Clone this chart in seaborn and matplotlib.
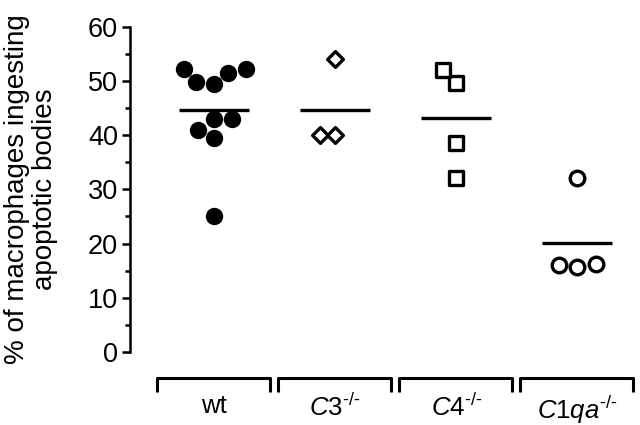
import numpy as np
import pandas as pd
import seaborn as sns
import matplotlib.pyplot as plt

# values (% of macrophages ingesting apoptotic bodies)
groups = ['wt', 'C3', 'C4', 'C1qa']
tick_labels = ['wt', '$\\mathit{C3}^{\\mathrm{\u2010/\u2010}}$',
               '$\\mathit{C4}^{\\mathrm{\u2010/\u2010}}$',
               '$\\mathit{C1qa}^{\\mathrm{\u2010/\u2010}}$']
wt_vals = [51.5, 52.2, 52.2, 49.5, 49.8, 43.0, 43.0, 41.0, 39.5, 25.0]
c3_vals = [54.0, 40.0, 40.0]
c4_vals = [49.6, 52.0, 38.6, 32.1]
c1qa_vals = [32.1, 16.1, 15.7, 16.2]

df = pd.DataFrame({
    'group': ['wt'] * len(wt_vals) + ['C3'] * len(c3_vals)
             + ['C4'] * len(c4_vals) + ['C1qa'] * len(c1qa_vals),
    'pct': wt_vals + c3_vals + c4_vals + c1qa_vals,
})

sns.set_style('white')
plt.rcParams['font.family'] = ['Liberation Sans', 'DejaVu Sans']
plt.rcParams['mathtext.fontset'] = 'custom'
plt.rcParams['mathtext.rm'] = 'Liberation Sans'
plt.rcParams['mathtext.it'] = 'Liberation Sans:italic'
for key in ['text.color', 'axes.labelcolor', 'xtick.color', 'ytick.color', 'axes.edgecolor']:
    plt.rcParams[key] = 'black'

fig = plt.figure(figsize=(6.4, 4.25), dpi=100)
ax = fig.add_axes([0.203, 0.172, 0.797, 0.765])

# marker style per group
styles = {
    'wt': dict(marker='o', color='black', edgecolor='black', linewidth=0, size=12.5),
    'C3': dict(marker='D', color='white', edgecolor='black', linewidth=2.4, size=8),
    'C4': dict(marker='s', color='white', edgecolor='black', linewidth=2.4, size=10.5),
    'C1qa': dict(marker='o', color='white', edgecolor='black', linewidth=2.4, size=10.5),
}
for g in groups:
    sub = df[df['group'] == g]
    sns.swarmplot(data=sub, x='group', y='pct', order=groups, ax=ax, **styles[g])

# mean bars
means = df.groupby('group')['pct'].mean()
for i, g in enumerate(groups):
    ax.hlines(means[g], i - 0.29, i + 0.29, color='black', lw=2.4)

ax.set_xlim(-0.692, 3.517)
ax.set_ylim(0, 60)
ax.set_yticks(range(0, 61, 10))
ax.set_yticks(range(5, 60, 10), minor=True)
ax.tick_params(axis='y', which='major', direction='out', length=5.5, width=1.8,
               labelsize=19.5, pad=3, left=True)
ax.tick_params(axis='y', which='minor', direction='out', length=3.5, width=1.8, left=True)

# group labels and brackets under the plot
ax.set_xticks(range(len(groups)))
ax.set_xticklabels(tick_labels, fontsize=18.5)
ax.tick_params(axis='x', length=0, pad=30)
ax.set_xlabel('')
for i in range(len(groups)):
    ax.plot([i - 0.47, i - 0.47, i + 0.46, i + 0.46], [-7.4, -4.8, -4.8, -7.4],
            color='black', lw=2.2, clip_on=False, solid_capstyle='butt')

for side in ['top', 'right', 'bottom']:
    ax.spines[side].set_visible(False)
ax.spines['left'].set_linewidth(1.8)

ax.set_ylabel('% of macrophages ingesting\napoptotic bodies', fontsize=20,
              linespacing=1.1)
ax.yaxis.set_label_coords(-0.141, 0.5)

fig.savefig('out.png', dpi=100)
